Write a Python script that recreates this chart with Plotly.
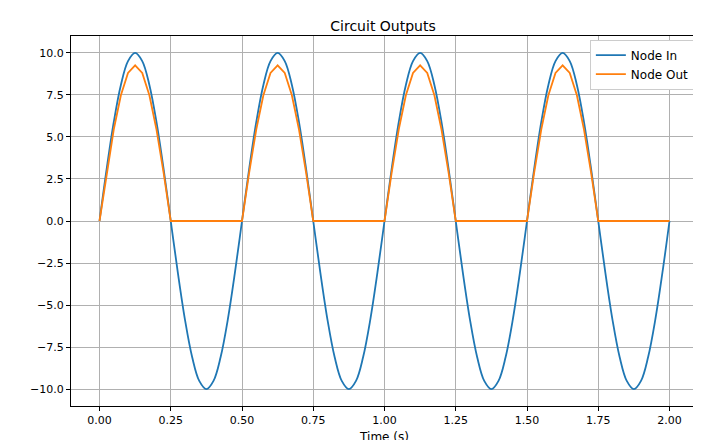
import plotly.graph_objects as go

time_s = [round(i * 0.025, 3) for i in range(81)]
cycle_in = [0.0, 3.09, 5.88, 8.09, 9.51, 10.0, 9.51, 8.09, 5.88, 3.09,
            0.0, -3.09, -5.88, -8.09, -9.51, -10.0, -9.51, -8.09, -5.88, -3.09]
cycle_out = [0.0, 2.86, 5.44, 7.48, 8.80, 9.25, 8.80, 7.48, 5.44, 2.86,
             0.0, 0.0, 0.0, 0.0, 0.0, 0.0, 0.0, 0.0, 0.0, 0.0]
node_in = cycle_in * 4 + [0.0]
node_out = cycle_out * 4 + [0.0]
x_ticks = [0, 0.25, 0.5, 0.75, 1.0, 1.25, 1.5, 1.75, 2.0]
y_ticks = [-10, -7.5, -5, -2.5, 0, 2.5, 5, 7.5, 10]

fig = go.Figure()
fig.add_trace(go.Scatter(x=time_s, y=node_in, name="Node In", mode="lines",
                         line=dict(color="#1f77b4", width=1.8, shape="spline")))
fig.add_trace(go.Scatter(x=time_s, y=node_out, name="Node Out", mode="lines",
                         line=dict(color="#ff7f0e", width=1.8)))
axis = dict(showline=True, linecolor="black", mirror=True, gridcolor="#b0b0b0",
            ticks="outside", ticklen=4, tickcolor="black", zeroline=False,
            automargin=False, tickfont=dict(size=11, color="black"))
fig.update_layout(
    width=701, height=440, paper_bgcolor="white", plot_bgcolor="white",
    margin=dict(l=63, r=11, t=28, b=42),
    font=dict(family="DejaVu Sans", color="black"),
    title=dict(text="Circuit Outputs", x=0.535, xanchor="center", y=0.97, font=dict(size=14)),
    xaxis=dict(axis, range=[-0.1, 2.1], tickvals=x_ticks, tickformat=".2f",
               title=dict(text="Time (s)", font=dict(size=12), standoff=6)),
    yaxis=dict(axis, range=[-11, 11], tickvals=y_ticks, tickformat=".1f"),
    legend=dict(x=0.995, y=0.99, xanchor="right", yanchor="top",
                bordercolor="#cccccc", borderwidth=1, bgcolor="white",
                font=dict(size=12)),
)
fig.write_html("out.html")
